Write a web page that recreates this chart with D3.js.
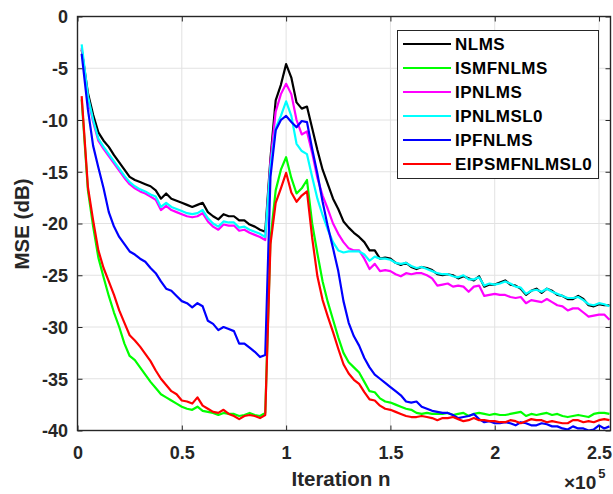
<!DOCTYPE html>
<html>
<head>
<meta charset="utf-8">
<script src="https://cdn.jsdelivr.net/npm/d3@7"></script>
<style>
body{margin:0;background:#fff;}
svg{display:block;font-family:"Liberation Sans",Arial,Helvetica,sans-serif;font-weight:bold;}
.axis text{font-size:18px;fill:#262626;font-family:"Liberation Sans",Arial,sans-serif;font-weight:bold;}
.axis line{stroke:#262626;stroke-width:1;}
.grid line{stroke:#e2e2e2;stroke-width:1;}
.legend-text{font-size:17px;letter-spacing:0.5px;fill:#000;}
</style>
</head>
<body>
<div class="mse-chart"></div>
<script>

// iteration index, in units of 1e5
const iterations = [
0.02, 0.05, 0.075, 0.1,
0.125, 0.15, 0.175, 0.2,
0.225, 0.25, 0.275, 0.3,
0.325, 0.35, 0.375, 0.4,
0.425, 0.45, 0.475, 0.5,
0.525, 0.55, 0.575, 0.6,
0.625, 0.65, 0.675, 0.7,
0.725, 0.75, 0.775, 0.8,
0.825, 0.85, 0.875, 0.9,
0.925, 0.95, 0.975, 1.0,
1.025, 1.05, 1.075, 1.1,
1.125, 1.15, 1.175, 1.2,
1.225, 1.25, 1.275, 1.3,
1.325, 1.35, 1.375, 1.4,
1.425, 1.45, 1.475, 1.5,
1.525, 1.55, 1.575, 1.6,
1.625, 1.65, 1.675, 1.7,
1.725, 1.75, 1.775, 1.8,
1.825, 1.85, 1.875, 1.9,
1.925, 1.95, 1.975, 2.0,
2.025, 2.05, 2.075, 2.1,
2.125, 2.15, 2.175, 2.2,
2.225, 2.25, 2.275, 2.3,
2.325, 2.35, 2.375, 2.4,
2.425, 2.45, 2.475, 2.5,
2.525, 2.55
];

const nlms = [
-3.2, -7.4, -9.5, -11.2,
-12.0, -12.6, -13.4, -14.1,
-14.8, -15.5, -15.8, -16.0,
-16.2, -16.4, -16.8, -17.6,
-17.1, -17.6, -17.8, -18.0,
-18.2, -18.4, -18.2, -18.0,
-18.9, -19.3, -19.6, -19.1,
-19.3, -19.3, -19.7, -19.7,
-20.1, -20.3, -20.6, -20.8,
-13.7, -8.1, -6.6, -4.6,
-5.9, -8.3, -8.9, -8.7,
-10.8, -12.9, -14.8, -16.2,
-17.6, -18.6, -19.8, -20.4,
-20.9, -21.3, -21.8, -22.6,
-22.6, -23.4, -23.3, -23.4,
-23.8, -24.0, -23.8, -24.2,
-24.4, -24.2, -24.3, -24.5,
-24.9, -25.0, -24.9, -25.0,
-25.3, -25.1, -25.3, -25.5,
-25.1, -26.1, -25.9, -25.9,
-25.7, -25.5, -25.9, -26.0,
-26.3, -26.9, -26.5, -26.3,
-26.7, -26.3, -26.5, -26.9,
-27.0, -27.3, -27.3, -27.0,
-27.3, -27.9, -28.0, -27.8,
-27.9, -27.9
];

const ismfnlms = [
-8.0, -16.8, -20.3, -23.3,
-25.2, -27.0, -28.6, -30.0,
-31.6, -32.8, -33.2, -33.9,
-34.6, -35.3, -35.9, -36.5,
-36.8, -37.1, -37.4, -37.7,
-37.9, -38.0, -37.7, -38.1,
-38.2, -38.3, -38.5, -38.3,
-38.4, -38.4, -38.6, -38.5,
-38.3, -38.5, -38.6, -38.3,
-21.5, -16.8, -14.8, -13.6,
-15.6, -17.1, -16.6, -15.8,
-20.0, -22.9, -25.6, -27.6,
-29.3, -31.0, -32.5, -33.4,
-33.9, -34.4, -35.3, -36.2,
-36.3, -36.9, -37.2, -37.3,
-37.5, -37.7, -37.9, -38.0,
-38.3, -38.4, -38.3, -38.4,
-38.4, -38.4, -38.3, -38.5,
-38.4, -38.3, -38.6, -38.4,
-38.3, -38.4, -38.5, -38.4,
-38.5, -38.5, -38.4, -38.3,
-38.2, -38.6, -38.4, -38.5,
-38.4, -38.3, -38.5, -38.4,
-38.6, -38.7, -38.6, -38.5,
-38.6, -38.7, -38.4, -38.3,
-38.3, -38.4
];

const ipnlms = [
-3.0, -7.9, -10.2, -12.0,
-12.8, -13.5, -14.2, -14.9,
-15.6, -16.2, -16.6, -16.9,
-17.1, -17.4, -17.7, -18.7,
-18.3, -18.7, -18.9, -19.1,
-19.3, -19.4, -19.3, -19.0,
-19.8, -20.3, -20.6, -20.1,
-20.2, -20.2, -20.7, -20.6,
-20.9, -21.1, -21.3, -21.6,
-14.0, -9.2, -7.5, -6.5,
-7.5, -10.0, -11.4, -11.1,
-13.2, -15.6, -17.3, -18.6,
-20.0, -21.0, -21.8, -22.4,
-22.6, -22.6, -23.4, -24.4,
-23.9, -24.6, -24.5, -24.6,
-24.9, -25.1, -24.8, -24.9,
-24.8, -24.8, -25.0, -25.3,
-26.0, -25.9, -25.8, -26.1,
-26.0, -26.1, -26.6, -26.1,
-26.0, -27.0, -26.9, -26.8,
-26.9, -26.9, -27.1, -27.2,
-27.1, -27.7, -27.4, -27.5,
-27.6, -27.3, -27.6, -27.9,
-28.0, -28.4, -28.2, -28.2,
-28.6, -29.0, -28.9, -28.8,
-28.8, -29.3
];

const ipnlmsl0 = [
-2.7, -7.7, -10.0, -11.8,
-12.6, -13.3, -14.0, -14.7,
-15.4, -16.0, -16.4, -16.7,
-16.9, -17.2, -17.4, -18.4,
-18.0, -18.4, -18.6, -18.8,
-19.0, -19.1, -19.0, -18.7,
-19.5, -20.0, -20.3, -19.8,
-19.9, -19.9, -20.4, -20.3,
-20.6, -20.8, -21.0, -21.3,
-14.5, -10.8, -9.6, -8.2,
-9.6, -12.3, -13.0, -13.3,
-15.5, -17.6, -19.2, -20.6,
-21.8, -22.6, -22.8, -22.7,
-22.7, -22.7, -23.0, -23.6,
-23.2, -23.4, -23.4, -23.5,
-23.8, -23.9, -23.8, -24.1,
-24.3, -24.2, -24.4, -24.6,
-24.8, -24.9, -24.9, -25.1,
-25.2, -25.0, -25.4, -25.4,
-25.2, -26.0, -25.8, -25.9,
-25.8, -25.6, -25.8, -26.1,
-26.2, -26.8, -26.5, -26.4,
-26.6, -26.3, -26.6, -26.8,
-27.0, -27.2, -27.2, -27.1,
-27.4, -27.8, -27.9, -27.7,
-27.8, -28.0
];

const ipfnlms = [
-3.6, -9.0, -12.5, -14.6,
-16.6, -18.9, -20.3, -21.3,
-22.0, -22.7, -23.0, -23.4,
-23.7, -24.3, -24.8, -25.6,
-26.3, -26.5, -27.0, -27.5,
-27.7, -28.1, -27.7, -28.0,
-29.4, -29.7, -30.3, -30.0,
-30.2, -30.4, -31.6, -31.6,
-32.0, -32.4, -32.9, -32.7,
-15.5, -11.0, -10.0, -9.6,
-10.2, -10.7, -10.1, -10.2,
-12.8, -15.2, -17.9, -20.3,
-22.4, -24.6, -27.5, -29.6,
-30.9, -31.8, -33.0, -33.9,
-34.6, -35.0, -35.4, -35.8,
-36.2, -36.6, -37.2, -37.3,
-37.2, -37.7, -37.9, -38.1,
-38.2, -38.3, -38.3, -38.5,
-38.8, -38.7, -38.6, -38.4,
-38.9, -39.2, -39.1, -39.3,
-39.3, -39.2, -39.3, -39.5,
-39.2, -39.3, -39.5, -39.5,
-39.3, -39.4, -39.6, -39.6,
-39.8, -39.9, -39.6, -39.8,
-39.8, -40.0, -39.9, -39.5,
-39.8, -39.6
];

const eipsmfnlmsl0 = [
-7.7, -16.5, -19.7, -22.6,
-24.3, -25.6, -26.9, -28.4,
-29.6, -30.8, -31.3, -31.9,
-32.6, -33.3, -34.2, -35.0,
-35.6, -36.2, -36.5, -37.1,
-37.2, -37.4, -36.8, -37.6,
-37.9, -38.2, -38.3, -38.0,
-38.4, -38.6, -38.9, -38.6,
-38.5, -38.6, -38.8, -38.5,
-22.0, -18.0, -16.6, -15.1,
-17.0, -17.9, -17.3, -16.9,
-21.4, -25.1, -27.4, -29.0,
-30.5, -32.1, -33.6, -34.5,
-35.1, -35.5, -36.3, -37.0,
-37.1, -37.6, -37.9, -38.0,
-38.2, -38.4, -38.6, -38.7,
-38.7, -38.6, -38.7, -38.8,
-39.0, -38.8, -38.8, -38.7,
-38.9, -39.1, -39.0, -38.8,
-39.0, -39.0, -39.1, -39.1,
-39.2, -39.2, -39.0, -39.1,
-39.3, -39.1, -38.9, -39.0,
-39.0, -39.2, -39.1, -39.2,
-39.3, -39.3, -39.0, -39.0,
-39.2, -39.1, -39.2, -39.0,
-38.9, -39.0
];

const seriesNames = ['NLMS', 'ISMFNLMS', 'IPNLMS', 'IPNLMSL0', 'IPFNLMS', 'EIPSMFNLMSL0'];
const seriesValues = [nlms, ismfnlms, ipnlms, ipnlmsl0, ipfnlms, eipsmfnlmsl0];
const seriesColors = ['#000000', '#00ff00', '#ff00ff', '#00ffff', '#0000ff', '#ff0000'];

const xTicks = [0, 0.5, 1, 1.5, 2, 2.5];
const yTicks = [0, -5, -10, -15, -20, -25, -30, -35, -40];

const width = 613;
const height = 494;
const margin = {top:16.5, right:2.5, bottom:63.5, left:77.5};

const xScale = d3.scaleLinear()
.domain([0, 2.555])
.range([margin.left, width - margin.right])

const yScale = d3.scaleLinear()
.domain([-40, 0])
.range([height - margin.bottom, margin.top])

const svg = d3.select('.mse-chart')
.append('svg')
.attr('width', width)
.attr('height', height)

svg.append('defs')
.append('clipPath')
.attr('id', 'plot-clip')
.append('rect')
.attr('x', margin.left)
.attr('y', margin.top)
.attr('width', width - margin.right - margin.left)
.attr('height', height - margin.bottom - margin.top)

// grid
const grid = svg.append('g').attr('class', 'grid')

grid.selectAll('.vgrid')
.data(xTicks.filter(d => d > 0))
.enter()
.append('line')
.attr('x1', d => xScale(d))
.attr('x2', d => xScale(d))
.attr('y1', margin.top)
.attr('y2', height - margin.bottom)

grid.selectAll('.hgrid')
.data(yTicks.filter(d => d > -40 && d < 0))
.enter()
.append('line')
.attr('x1', margin.left)
.attr('x2', width - margin.right)
.attr('y1', d => yScale(d))
.attr('y2', d => yScale(d))

// curves
const line = d3.line()
.x((d, i) => xScale(iterations[i]))
.y(d => yScale(d))

svg.append('g')
.attr('clip-path', 'url(#plot-clip)')
.selectAll('path')
.data(seriesValues)
.enter()
.append('path')
.attr('d', d => line(d))
.attr('fill', 'none')
.attr('stroke', (d, i) => seriesColors[i])
.attr('stroke-width', 2.2)
.attr('stroke-linejoin', 'round')

// axes, ticks pointing inwards on all four sides
const xAxis = svg.append('g')
.attr('class', 'axis')
.attr('transform', `translate(0,${height - margin.bottom})`)
.call(
	d3.axisBottom(xScale)
	.tickValues(xTicks)
	.tickFormat(d => String(d))
	.tickSizeInner(-5)
	.tickSizeOuter(0)
	.tickPadding(15.5)
)

const yAxis = svg.append('g')
.attr('class', 'axis')
.attr('transform', `translate(${margin.left},0)`)
.call(
	d3.axisLeft(yScale)
	.tickValues(yTicks)
	.tickFormat(d => String(d))
	.tickSizeInner(-5)
	.tickSizeOuter(0)
	.tickPadding(9.5)
)

yAxis.selectAll('text').attr('dy', '0.36em')

const xTop = svg.append('g')
.attr('class', 'axis')
.attr('transform', `translate(0,${margin.top})`)
.call(d3.axisTop(xScale).tickValues(xTicks).tickFormat('').tickSizeInner(-5).tickSizeOuter(0))

const yRight = svg.append('g')
.attr('class', 'axis')
.attr('transform', `translate(${width - margin.right},0)`)
.call(d3.axisRight(yScale).tickValues(yTicks).tickFormat('').tickSizeInner(-5).tickSizeOuter(0))

svg.selectAll('.domain').remove();

svg.append('rect')
.attr('x', margin.left)
.attr('y', margin.top)
.attr('width', width - margin.right - margin.left)
.attr('height', height - margin.bottom - margin.top)
.attr('fill', 'none')
.attr('stroke', '#262626')
.attr('stroke-width', 1.4)

// labels
svg.append('text')
.attr('x', 341)
.attr('y', 486)
.attr('text-anchor', 'middle')
.style('font-size', '20.5px')
.style('fill', '#262626')
.text('Iteration n')

svg.append('text')
.attr('transform', 'translate(29,224) rotate(-90)')
.attr('text-anchor', 'middle')
.style('font-size', '20.5px')
.style('fill', '#262626')
.text('MSE (dB)')

const expo = svg.append('text')
.attr('x', 564)
.attr('y', 489)
.style('font-size', '19px')
.style('fill', '#262626')

expo.append('tspan').text('×10')
expo.append('tspan')
.attr('dx', 2)
.attr('dy', -11)
.style('font-size', '13px')
.text('5')

// legend
const legend = svg.append('g')
.attr('class', 'legend')

legend.append('rect')
.attr('x', 397.5)
.attr('y', 30.5)
.attr('width', 201)
.attr('height', 148)
.attr('fill', '#fff')
.attr('stroke', '#262626')
.attr('stroke-width', 1)

const items = legend.selectAll('.legend-item')
.data(seriesNames)
.enter()
.append('g')
.attr('class', 'legend-item')
.attr('transform', (d, i) => `translate(0,${44 + i * 24})`)

items.append('line')
.attr('x1', 403)
.attr('x2', 451)
.attr('y1', 0)
.attr('y2', 0)
.attr('stroke', (d, i) => seriesColors[i])
.attr('stroke-width', 2.2)

items.append('text')
.attr('class', 'legend-text')
.attr('x', 455)
.attr('y', 0)
.attr('dy', '0.36em')
.text(d => d)

</script>
</body>
</html>
